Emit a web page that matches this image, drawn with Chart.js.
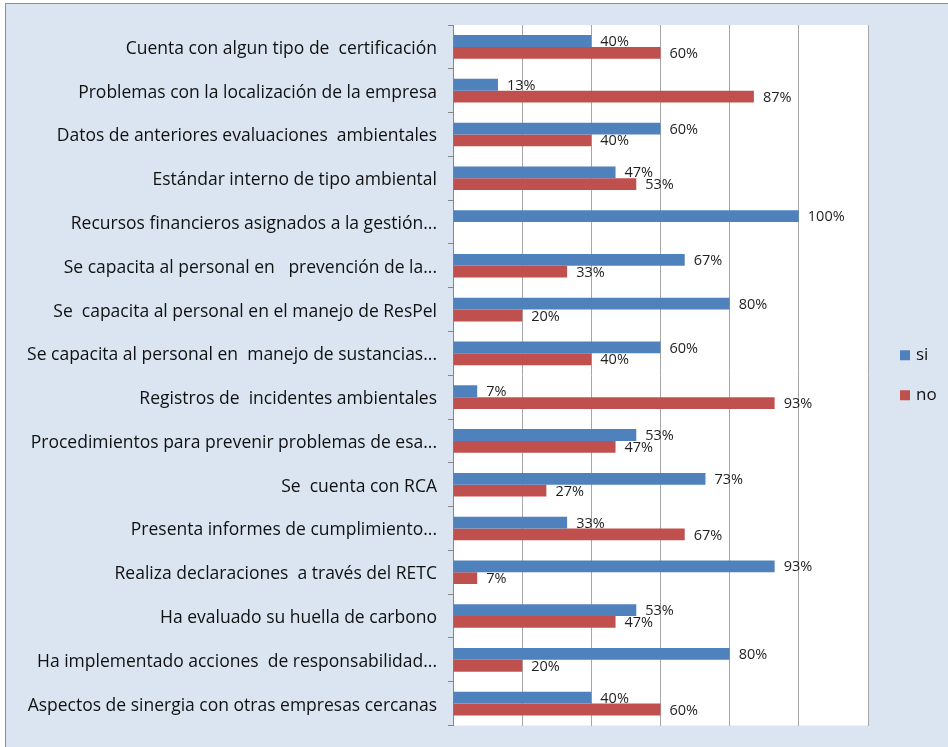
<!DOCTYPE html>
<html>
<head>
<meta charset="utf-8">
<script src="https://cdn.jsdelivr.net/npm/chart.js@4.4.0/dist/chart.umd.min.js"></script>
<style>
    html, body { margin: 0; padding: 0; background: #ffffff; }
    #frame {
        position: absolute; left: 5px; top: 3px; width: 943px; height: 744px;
        background: #dbe5f1; border-left: 1px solid #8c8c8c; border-top: 1px solid #8c8c8c;
    }
    #chart { position: absolute; left: 0; top: 0; }
</style>
</head>
<body>
<div id="frame"></div>
<canvas id="chart" width="948" height="747"></canvas>
<script>
const CATEGORIES = [
    'Cuenta con algun tipo de  certificación',
    'Problemas con la localización de la empresa',
    'Datos de anteriores evaluaciones  ambientales',
    'Estándar interno de tipo ambiental',
    'Recursos financieros asignados a la gestión...',
    'Se capacita al personal en   prevención de la...',
    'Se  capacita al personal en el manejo de ResPel',
    'Se capacita al personal en  manejo de sustancias...',
    'Registros de  incidentes ambientales',
    'Procedimientos para prevenir problemas de esa...',
    'Se  cuenta con RCA',
    'Presenta informes de cumplimiento...',
    'Realiza declaraciones  a través del RETC',
    'Ha evaluado su huella de carbono',
    'Ha implementado acciones  de responsabilidad...',
    'Aspectos de sinergia con otras empresas cercanas'
];
const SI_VALUES = [40, 13, 60, 47, 100, 67, 80, 60, 7, 53, 73, 33, 93, 53, 80, 40];
const NO_VALUES = [60, 87, 40, 53, null, 33, 20, 40, 93, 47, 27, 67, 7, 47, 20, 60];
const SERIES_LABELS = ['si', 'no'];
const X_TICKS = [0, 20, 40, 60, 80, 100, 120];

const BLUE = '#4f81bd';
const RED = '#c0504d';
const FONT = "'Open Sans', 'Liberation Sans', sans-serif";

// white plot area
const plotBackground = {
    id: 'plotBackground',
    beforeDraw: function(chart) {
        const a = chart.chartArea;
        chart.ctx.save();
        chart.ctx.fillStyle = '#ffffff';
        chart.ctx.fillRect(a.left, a.top, a.right - a.left, a.bottom - a.top);
        chart.ctx.restore();
    }
};

// value labels at the end of each bar
const barLabels = {
    id: 'barLabels',
    afterDatasetsDraw: function(chart) {
        const ctx = chart.ctx;
        ctx.save();
        ctx.font = '14.5px ' + FONT;
        ctx.fillStyle = '#1f1f1f';
        ctx.textAlign = 'left';
        ctx.textBaseline = 'middle';
        chart.data.datasets.forEach(function(ds, i) {
            chart.getDatasetMeta(i).data.forEach(function(bar, j) {
                const v = ds.data[j];
                if (v === null || v === undefined) return;
                ctx.fillText(v + '%', bar.x + 9, bar.y + 1);
            });
        });
        ctx.restore();
    }
};

// legend on the right
const sideLegend = {
    id: 'sideLegend',
    afterDraw: function(chart) {
        const ctx = chart.ctx;
        const mid = (chart.chartArea.top + chart.chartArea.bottom) / 2;
        ctx.save();
        ctx.font = '17px ' + FONT;
        ctx.textBaseline = 'middle';
        chart.data.datasets.forEach(function(ds, i) {
            const y = mid - 20 + i * 40;
            ctx.fillStyle = ds.backgroundColor;
            ctx.fillRect(900, y - 5, 10, 10);
            ctx.fillStyle = '#111111';
            ctx.fillText(ds.label, 916, y);
        });
        ctx.restore();
    }
};

new Chart(document.getElementById('chart').getContext('2d'), {
    type: 'bar',
    data: {
        labels: CATEGORIES,
        datasets: [
            { label: SERIES_LABELS[0], data: SI_VALUES, backgroundColor: BLUE },
            { label: SERIES_LABELS[1], data: NO_VALUES, backgroundColor: RED }
        ]
    },
    options: {
        indexAxis: 'y',
        responsive: false,
        animation: false,
        layout: { padding: { left: 5, right: 80, top: 25, bottom: 20 } },
        datasets: { bar: { categoryPercentage: 0.54, barPercentage: 1 } },
        plugins: {
            legend: { display: false },
            tooltip: { enabled: false }
        },
        scales: {
            x: {
                min: X_TICKS[0],
                max: X_TICKS[X_TICKS.length - 1],
                afterBuildTicks: function(scale) {
                    scale.ticks = X_TICKS.map(function(v) { return { value: v }; });
                },
                ticks: { display: false },
                grid: { color: '#a6a6a6', drawTicks: false },
                border: { display: false },
                afterFit: function(scale) { scale.height = 0; }
            },
            y: {
                ticks: {
                    color: '#111111',
                    padding: 11,
                    labelOffset: 2,
                    font: { family: FONT, size: 17.5 }
                },
                grid: { drawOnChartArea: false, tickLength: 5, color: '#868686' },
                border: { display: true, color: '#868686' },
                afterFit: function(scale) { scale.width = 448; }
            }
        }
    },
    plugins: [plotBackground, barLabels, sideLegend]
});
</script>
</body>
</html>
